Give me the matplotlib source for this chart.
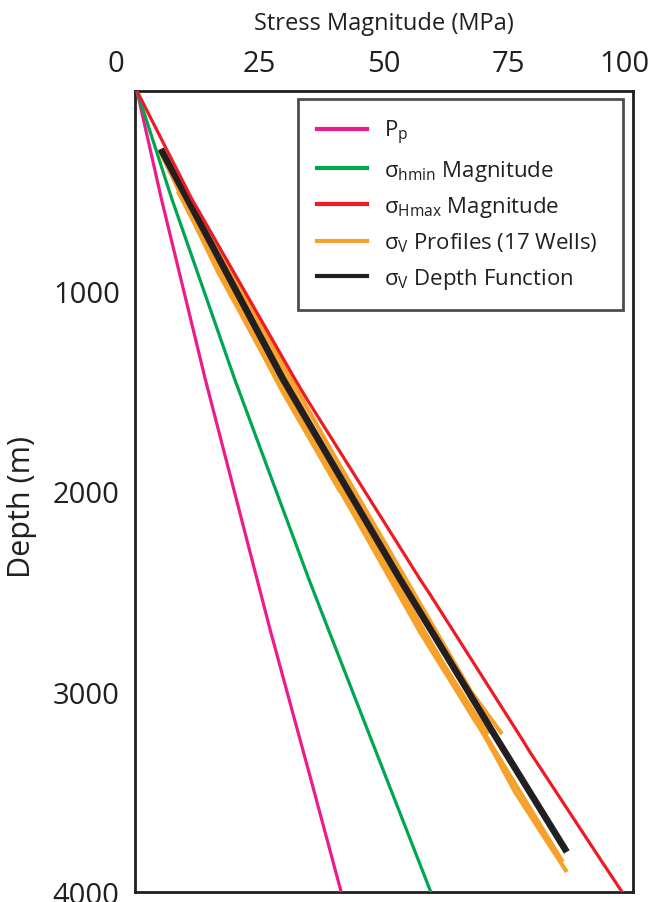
import matplotlib
matplotlib.use("Agg")
import matplotlib.pyplot as plt
import matplotlib.transforms as mtransforms
from matplotlib.lines import Line2D

plt.rcParams['font.family'] = ['Open Sans', 'DejaVu Sans']
plt.rcParams['mathtext.fontset'] = 'custom'
plt.rcParams['mathtext.rm'] = 'Open Sans'
plt.rcParams['mathtext.it'] = 'Open Sans:italic'

# ---------------- data (depth in m, stress in MPa) ----------------
pp_depth = [0, 539, 1438, 2687, 3436, 4000]
pp_stress = [0.4, 5.3, 14.1, 27.1, 35.3, 41.4]

shmin_depth = [0, 539, 1438, 2437, 2687, 3236, 4000]
shmin_stress = [0.4, 7.4, 20.0, 34.9, 38.8, 47.4, 59.4]

shmax_depth = [0, 539, 1438, 1538, 2437, 2512, 3236, 3301, 3835, 4000]
shmax_stress = [0.4, 11.4, 32.1, 34.5, 57.2, 59.2, 77.7, 79.3, 93.4, 97.8]

sv_func_depth = [290, 1438, 2437, 3236, 3800]
sv_func_stress = [5.2, 29.7, 53.2, 72.7, 86.7]

# sigma_V profiles from wells (approximate traces around the depth function)
well_depths = [
    [290, 700, 1200, 1800, 2400, 3000, 3211],
    [300, 900, 1500, 2100, 2700, 3236, 3500, 3900],
    [320, 1000, 1600, 2200, 2800, 3300, 3850],
    [2470, 2800, 3100, 3300],
    [2700, 2901, 3100, 3211],
    [500, 1000, 1500, 2000],
    [900, 1473, 2000, 2500],
    [1200, 1900, 2600, 3150],
]
well_stress = [
    [5.0, 14.5, 26.0, 39.5, 53.5, 67.5, 73.7],
    [5.0, 16.6, 29.8, 43.6, 57.2, 70.6, 76.3, 86.7],
    [5.4, 19.8, 32.8, 46.8, 60.4, 72.4, 85.9],
    [52.6, 60.5, 67.5, 72.0],
    [58.0, 62.9, 68.0, 71.0],
    [8.6, 19.0, 29.6, 41.2],
    [18.3, 31.2, 42.8, 54.3],
    [24.8, 40.4, 55.6, 68.4],
]

x_ticks = [0, 25, 50, 75, 100]
y_ticks = [1000, 2000, 3000, 4000]

labels = [r'$\mathregular{P_p}$',
          r'$\mathregular{σ_{hmin}}$ Magnitude',
          r'$\mathregular{σ_{Hmax}}$ Magnitude',
          r'$\mathregular{σ_V}$ Profiles (17 Wells)',
          r'$\mathregular{σ_V}$ Depth Function']

c_pp = '#EC1C8C'
c_hmin = '#00A651'
c_hmax = '#ED1C24'
c_sv = '#F6A129'
c_func = '#231F20'
dark = '#231F20'

# ---------------- figure ----------------
W, H = 654, 903
fig = plt.figure(figsize=(W / 100, H / 100), dpi=100)
ax = fig.add_axes([135 / W, 1 - 893 / H, (633 - 135) / W, (893 - 92) / H])

lw = 2.3
ax.plot(pp_stress, pp_depth, color=c_pp, lw=lw, zorder=3)
ax.plot(shmin_stress, shmin_depth, color=c_hmin, lw=lw, zorder=3)
for d, s in zip(well_depths, well_stress):
    ax.plot(s, d, color=c_sv, lw=3.0, zorder=2, solid_capstyle='butt')
ax.plot(sv_func_stress, sv_func_depth, color=c_func, lw=4.8, zorder=4,
        solid_capstyle='butt')
ax.plot(shmax_stress, shmax_depth, color=c_hmax, lw=lw, zorder=5)

ax.set_xlim(0, 100)
ax.set_ylim(4000, 0)
ax.xaxis.tick_top()
ax.xaxis.set_label_position('top')
ax.set_xticks(x_ticks)
ax.set_xticklabels([str(v) for v in x_ticks])
ax.set_yticks(y_ticks)
ax.set_yticklabels([str(v) for v in y_ticks])
ax.tick_params(axis='x', length=0, pad=9, labelsize=21, labelcolor=dark)
ax.tick_params(axis='y', length=0, pad=11, labelsize=21, labelcolor=dark)
for sp in ax.spines.values():
    sp.set_linewidth(2.0)
    sp.set_color(dark)

# end labels sit shifted from the corners, as in the source figure
xlabs = ax.get_xticklabels()
for lab, dx in ((xlabs[0], -19), (xlabs[-1], -9)):
    lab.set_transform(lab.get_transform() +
                      mtransforms.ScaledTranslation(dx / 100, 0, fig.dpi_scale_trans))

ax.set_xlabel('Stress Magnitude (MPa)', fontsize=17, color=dark, labelpad=15)
ax.set_ylabel('Depth (m)', fontsize=22, color=dark)
ax.yaxis.set_label_coords(-0.197, 0.482)

handles = [Line2D([], [], color=c, lw=3) for c in (c_pp, c_hmin, c_hmax, c_sv, c_func)]
leg = ax.legend(handles, labels, loc='upper left',
                bbox_to_anchor=(298 / W, 1 - 100 / H, (623 - 298) / W, 0.0),
                bbox_transform=fig.transFigure, mode='expand',
                fontsize=16, handlelength=2.25, handletextpad=0.75,
                labelspacing=0.52, borderpad=0.85, borderaxespad=0,
                fancybox=False, frameon=True)
fr = leg.get_frame()
fr.set_edgecolor(dark)
fr.set_linewidth(2.0)
for t in leg.get_texts():
    t.set_color(dark)

fig.savefig('out.png', dpi=100)
